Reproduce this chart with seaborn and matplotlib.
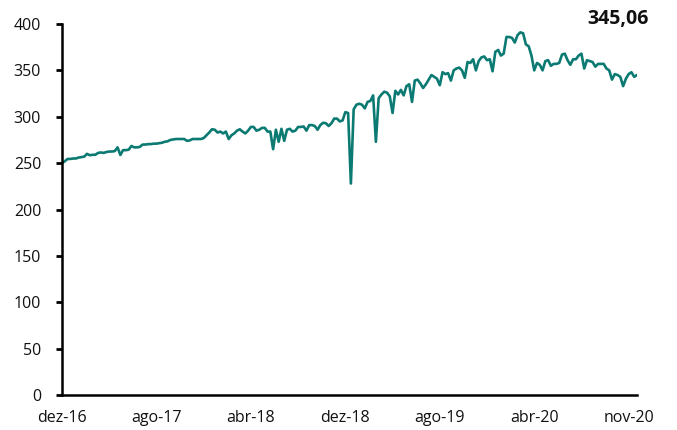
import matplotlib
matplotlib.use("Agg")
import matplotlib.pyplot as plt
import seaborn as sns
import pandas as pd
import numpy as np

values = [
    # dez-16 .. ago-17
    250, 252, 254.5, 254.5, 255, 255, 256, 256.5, 257, 260, 258.5, 259, 259, 261, 261.5, 261,
    262, 262.5, 262.5, 263, 267, 258.8, 264, 264, 264.5, 268.5, 267, 267, 267.5, 270, 270,
    270.5, 270.5, 271, 271, 271.5, 272, 273, 273.5, 275, 275.5, 276, 276,
    # ago-17 .. abr-18 .. dez-18
    276, 276, 274, 274.5, 276, 276, 276, 276, 277, 280, 283, 286.5, 286, 283, 284, 282, 284,
    276, 280, 282, 285, 286.5, 284, 282, 285, 289, 289, 285, 286, 288, 288, 284, 284, 265,
    286, 273, 287, 274, 286, 287, 284, 285, 289,
    # dez-18 .. ago-19
    289, 289.5, 285, 291, 291, 290, 286, 291, 293.5, 293, 290, 293, 298, 298, 295, 296, 305,
    304, 228, 308, 313, 314, 313, 309, 316, 317, 323, 273, 320, 324, 327, 326, 322, 304, 328,
    324, 329, 323, 333, 335, 316, 339, 340,
    # ago-19 .. abr-20
    336, 331, 335, 340, 345, 343, 341, 334, 348, 346, 347, 339, 350, 352, 353, 350, 342, 359,
    358, 362, 350, 360, 364, 365, 361, 362, 349, 370, 372, 366, 368, 386, 386, 385, 380, 388,
    391, 390, 378, 376, 366, 350,
    # abr-20 .. nov-20
    358, 356, 350, 360, 361, 355, 357, 357, 358, 367, 368, 361, 356, 362, 362, 366, 368, 352,
    361, 360, 359, 354, 357, 357, 357, 352, 350, 340, 346, 345, 343, 333, 341, 346, 348, 343,
    345.06,
]
tick_labels = ["dez-16", "ago-17", "abr-18", "dez-18", "ago-19", "abr-20", "nov-20"]
y_ticks = [0, 50, 100, 150, 200, 250, 300, 350, 400]
last_label = "345,06"

df = pd.DataFrame({"idx": np.arange(len(values)), "valor": values})

sns.set_theme(style="white")
plt.rcParams["font.family"] = ["Open Sans", "DejaVu Sans"]

fig = plt.figure(figsize=(6.77, 4.30), dpi=100)
ax = fig.add_axes([62 / 677, 1 - 395 / 430, 575 / 677, 371 / 430])

color = "#0b7a72"
sns.lineplot(data=df, x="idx", y="valor", ax=ax, color=color, linewidth=1.9)

ax.set_xlim(0, len(values) - 1)
ax.set_ylim(0, 400)
ax.set_yticks(y_ticks)
ax.set_yticklabels([str(v) for v in y_ticks])
step = 34
ax.set_xticks([i * step for i in range(len(tick_labels))])
ax.set_xticklabels(tick_labels)
ax.set_xlabel("")
ax.set_ylabel("")

for s in ["top", "right"]:
    ax.spines[s].set_visible(False)
for s in ["left", "bottom"]:
    ax.spines[s].set_color("black")
    ax.spines[s].set_linewidth(1.8)

ax.tick_params(axis="y", which="both", left=True, length=4, width=2, color="black",
               pad=11, labelsize=11.5, labelcolor="#111111")
ax.tick_params(axis="x", which="both", bottom=False, length=0, pad=11,
               labelsize=11.5, labelcolor="#111111")

fig.text(649 / 677, 1 - 19 / 430, last_label, ha="right", va="center",
         fontsize=14, fontweight="bold", color="#111111")

fig.savefig("out.png", dpi=100)
